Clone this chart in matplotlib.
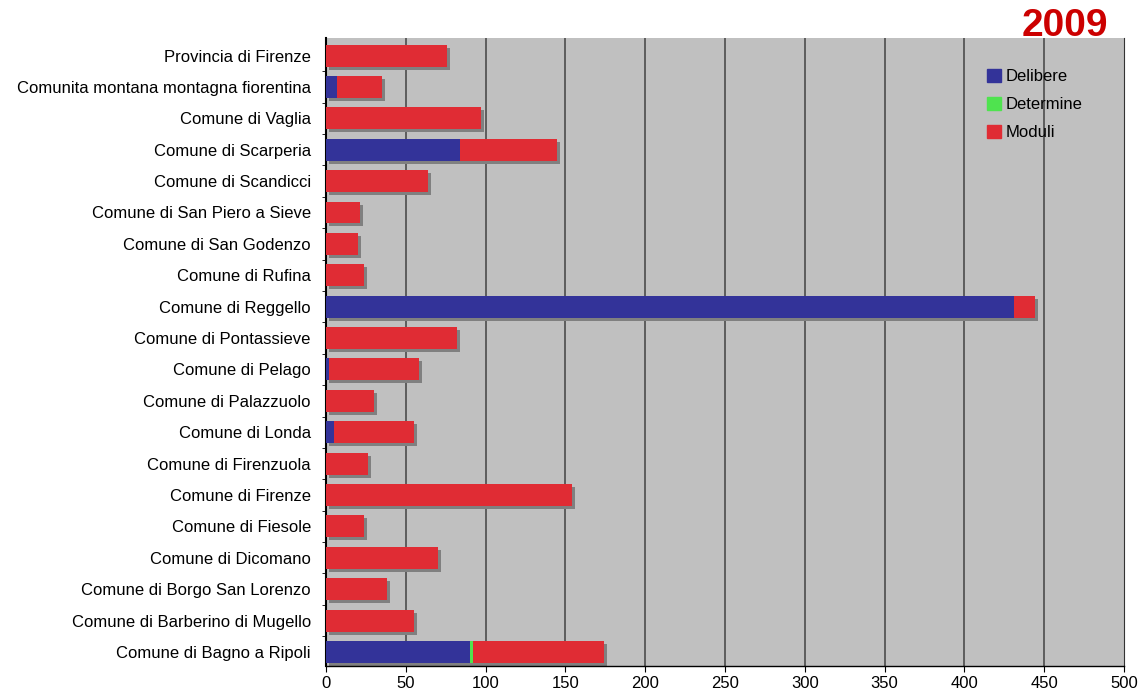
import matplotlib
matplotlib.use("Agg")
import matplotlib.pyplot as plt
import matplotlib.transforms as mtransforms
from matplotlib.patches import Patch
import numpy as np

plt.rcParams['font.family'] = ['Liberation Sans', 'DejaVu Sans']

# top to bottom as shown in the chart
enti = [
    "Provincia di Firenze",
    "Comunita montana montagna fiorentina",
    "Comune di Vaglia",
    "Comune di Scarperia",
    "Comune di Scandicci",
    "Comune di San Piero a Sieve",
    "Comune di San Godenzo",
    "Comune di Rufina",
    "Comune di Reggello",
    "Comune di Pontassieve",
    "Comune di Pelago",
    "Comune di Palazzuolo",
    "Comune di Londa",
    "Comune di Firenzuola",
    "Comune di Firenze",
    "Comune di Fiesole",
    "Comune di Dicomano",
    "Comune di Borgo San Lorenzo",
    "Comune di Barberino di Mugello",
    "Comune di Bagno a Ripoli",
]
delibere = [0, 7, 0, 84, 0, 0, 0, 0, 431, 0, 2, 0, 5, 0, 0, 0, 0, 0, 0, 90]
determine = [0, 0, 0, 0, 0, 0, 0, 0, 0, 0, 0, 0, 0, 0, 0, 0, 0, 0, 0, 2]
moduli = [76, 28, 97, 61, 64, 21, 20, 24, 13, 82, 56, 30, 50, 26, 154, 24, 70, 38, 55, 82]

c_del = "#333399"
c_det = "#4FE34F"
c_mod = "#E02C34"

fig = plt.figure(figsize=(11.4, 6.96), dpi=100)
ax = fig.add_axes([0.286, 0.043, 0.7, 0.902])
ax.set_facecolor("#C0C0C0")

n = len(enti)
y = np.arange(n)[::-1]
d = np.array(delibere)
t = np.array(determine)
m = np.array(moduli)
tot = d + t + m
h = 0.7

# grey drop shadow behind each bar
shadow = mtransforms.offset_copy(ax.transData, fig=fig, x=3, y=-3, units='dots')
ax.barh(y, tot, height=h, color="#808080", transform=shadow, zorder=2)
ax.barh(y, d, height=h, color=c_del, zorder=3)
ax.barh(y, t, left=d, height=h, color=c_det, zorder=3)
ax.barh(y, m, left=d + t, height=h, color=c_mod, zorder=3)

ax.set_xlim(0, 500)
ax.set_ylim(-0.45, n - 0.45)
ax.set_xticks(np.arange(0, 501, 50))
ax.tick_params(axis='x', labelsize=12, length=4, direction='out')
ax.set_yticks(y)
ax.set_yticklabels(enti, fontsize=12)
ax.tick_params(axis='y', length=0, pad=11)
ax.set_yticks(np.arange(n - 1) + 0.5, minor=True)
ax.tick_params(axis='y', which='minor', length=3, direction='out')

for gx in range(50, 500, 50):
    ax.axvline(gx, color="#555555", lw=1.3, zorder=1)

ax.spines['top'].set_visible(False)
ax.spines['right'].set_color("#333333")
ax.spines['left'].set_linewidth(1.5)
ax.spines['bottom'].set_linewidth(1.0)

handles = [Patch(color=c_del), Patch(color=c_det), Patch(color=c_mod)]
ax.legend(handles, ["Delibere", "Determine", "Moduli"], loc='upper left',
          bbox_to_anchor=(0.81, 0.975), frameon=False, fontsize=12,
          handlelength=0.8, handleheight=0.8, handletextpad=0.3, labelspacing=0.78)

fig.text(0.972, 0.962, "2009", color="#CC0000", fontsize=28, fontweight='bold',
         ha='right', va='center')

fig.savefig("out.png", dpi=100)
